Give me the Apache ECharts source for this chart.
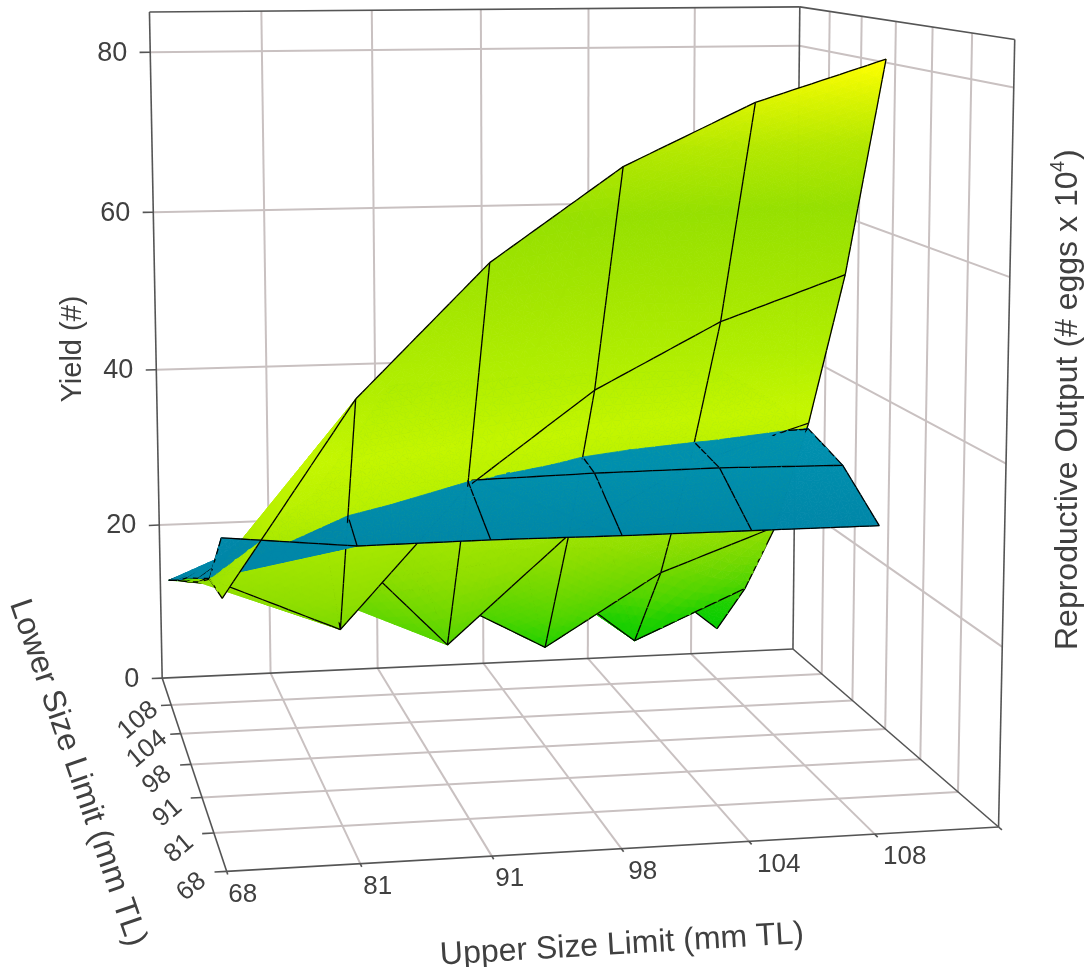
<!DOCTYPE html>
<html><head><meta charset="utf-8"><style>html,body{margin:0;padding:0;background:#fff}#c{width:1086px;height:967px}</style>
<script src="https://cdn.jsdelivr.net/npm/echarts@6/dist/echarts.min.js"></script></head>
<body><div id="c"></div><script>
// ---- data ----
const upperLimits=['68','81','91','98','104','108'];
const lowerLimits=['68','81','91','98','104','108'];
const yieldTicks=[0,20,40,60,80];
const yieldMax=85;
// rows: lower limit index, columns: upper limit index
const yieldValues=[
[28.9,49.1,62.8,72.4,78.8,83.1],
[27.9,21.8,36.9,47.0,54.1,58.9],
[24.6,30.4,16.2,28.3,35.8,40.2],
[21.6,20.0,19.5,12.0,20.4,25.4],
[18.8,17.6,18.3,19.7,8.9,14.9],
[15.8,20.1,19.2,18.0,17.7,6.6]];
const outputValues=[
[35.2,33.8,33.9,33.8,33.8,33.8],
[28.0,37.5,37.6,37.9,38.0,37.8],
[25.0,34.5,39.1,39.4,39.0,39.5],
[22.1,29.5,39.6,40.1,40.1,40.2],
[18.8,25.0,39.7,40.1,40.3,40.3],
[15.8,20.3,39.4,39.8,40.1,40.0]];
// ---- view of the 3D box (axis slots -> screen) ----
const CAM=[136.4057,-4.288505,-0.2517819,226.6517,-0.9675904,-5.209777,-9.714445,871.3591,0.007767805,0.03981842,-0.0004445517,1];
const depth=(u,l,z)=>CAM[8]*u+CAM[9]*l+CAM[10]*z+1;
const proj=(u,l,z)=>{const w=depth(u,l,z);return[(CAM[0]*u+CAM[1]*l+CAM[2]*z+CAM[3])/w,(CAM[4]*u+CAM[5]*l+CAM[6]*z+CAM[7])/w]};
const ramp=[[6,[0,204,0]],[12,[32,208,0]],[16,[80,213,0]],[20,[112,216,0]],[25,[144,222,0]],[32,[168,232,0]],[36,[184,240,0]],[42,[196,246,0]],[50,[176,238,0]],[58,[164,230,0]],[67,[150,224,0]],[74,[180,232,0]],[79,[218,244,0]],[83,[255,255,0]]];
function green(z){let i=0;while(i<ramp.length-2&&z>ramp[i+1][0])i++;const a=ramp[i],b=ramp[i+1],t=Math.max(0,Math.min(1,(z-a[0])/(b[0]-a[0])));return'rgb('+a[1].map((v,k)=>Math.round(v+(b[1][k]-v)*t)).join(',')+')'}
function blue(z){const t=Math.max(0,Math.min(1,(z-34)/6));return'rgb(0,'+Math.round(135+11*t)+','+Math.round(168+8*t)+')'}
const MAXPX=12,frags=[];
function sub(a,b,c,k,col){ // a,b,c = [u,l,zY,zO]; k = which z
  const P=v=>proj(v[0],v[1],v[k]);
  const pa=P(a),pb=P(b),pc=P(c);
  const dist=(p,q)=>Math.hypot(p[0]-q[0],p[1]-q[1]);
  const ab=dist(pa,pb),bc=dist(pb,pc),ca=dist(pc,pa),m=Math.max(ab,bc,ca);
  const mid=(p,q)=>p.map((v,i)=>(v+q[i])/2);
  if(m>MAXPX){
    if(m===ab){const d=mid(a,b);sub(a,d,c,k,col);sub(d,b,c,k,col)}
    else if(m===bc){const d=mid(b,c);sub(a,b,d,k,col);sub(a,d,c,k,col)}
    else{const d=mid(c,a);sub(a,b,d,k,col);sub(d,b,c,k,col)}
    return;
  }
  const cu=(a[0]+b[0]+c[0])/3,cl=(a[1]+b[1]+c[1])/3,cz=(a[k]+b[k]+c[k])/3;
  frags.push({t:0,pts:[pa,pb,pc],w:depth(cu,cl,cz),fill:col(cz)});
}
function splitTri(tri){ // split along the line where both surfaces meet
  const d=v=>v[2]-v[3],pos=[],neg=[],n=tri.length;
  for(let i=0;i<n;i++){const a=tri[i],b=tri[(i+1)%n],da=d(a),db=d(b);
    if(da>=0)pos.push(a);if(da<=0)neg.push(a);
    if(da*db<0){const t=da/(da-db),x=a.map((v,k)=>v+(b[k]-v)*t);pos.push(x);neg.push(x)}}
  return[pos,neg].filter(p=>p.length>=3);
}
function addTri(tri){for(const poly of splitTri(tri))for(let i=1;i<poly.length-1;i++){
  sub(poly[0],poly[i],poly[i+1],2,green);sub(poly[0],poly[i],poly[i+1],3,blue)}}
const V=(u,l)=>[u,l,yieldValues[l][u],outputValues[l][u]];
const nU=upperLimits.length,nL=lowerLimits.length;
for(let l=0;l<nL-1;l++)for(let u=0;u<nU-1;u++){
  addTri([V(u,l),V(u+1,l),V(u,l+1)]);addTri([V(u+1,l),V(u+1,l+1),V(u,l+1)]);
}
function addEdge(a,b,k){const pa=proj(a[0],a[1],a[k]),pb=proj(b[0],b[1],b[k]);
  const n=Math.max(1,Math.ceil(Math.hypot(pa[0]-pb[0],pa[1]-pb[1])/10));
  for(let i=0;i<n;i++){const s=i/n,e=(i+1)/n,f=t=>a.map((v,j)=>v+(b[j]-v)*t),A=f(s),B=f(e),M=f((s+e)/2);
    const bias=(k===3&&M[2]<M[3])?0.001:0.004;
    frags.push({t:1,pts:[proj(A[0],A[1],A[k]),proj(B[0],B[1],B[k])],w:depth(M[0],M[1],M[k])-bias})}}
for(const k of[2,3])for(let l=0;l<nL;l++)for(let u=0;u<nU;u++){
  if(u<nU-1)addEdge(V(u,l),V(u+1,l),k);if(l<nL-1)addEdge(V(u,l),V(u,l+1),k);}
frags.sort((a,b)=>b.w-a.w);
// ---- box, grid, ticks ----
const GRID='#c9c1c1',BOX='#555555',TXT='#404040',FONT='"Liberation Sans",Arial,sans-serif';
const end=nU,back=nL,lines=[];
const add=(a,b,c,w)=>lines.push({a,b,c,w});
for(let i=1;i<end;i++){add([i,0,0],[i,back,0],GRID,2);add([i,back,0],[i,back,yieldMax],GRID,2)}
for(let j=1;j<back;j++){add([0,j,0],[end,j,0],GRID,2);add([end,j,0],[end,j,yieldMax],GRID,2)}
yieldTicks.slice(1).forEach(z=>{add([0,back,z],[end,back,z],GRID,2);add([end,back,z],[end,0,z],GRID,2)});
add([0,0,0],[end,0,0],BOX,1.6);add([0,0,0],[0,back,0],BOX,1.6);add([0,back,0],[end,back,0],BOX,1.6);add([end,back,0],[end,0,0],BOX,1.6);
add([0,back,0],[0,back,yieldMax],BOX,1.6);add([end,back,0],[end,back,yieldMax],BOX,1.6);add([end,0,0],[end,0,yieldMax],BOX,1.6);
add([0,back,yieldMax],[end,back,yieldMax],BOX,1.6);add([end,back,yieldMax],[end,0,yieldMax],BOX,1.6);
yieldTicks.forEach(z=>add([-0.095,back,z],[0,back,z],BOX,1.6));
for(let j=0;j<back;j++)add([-0.09,j,0],[0,j,0],BOX,1.6);
for(let i=0;i<=end;i++)add([i,-0.08,0],[i,0,0],BOX,1.6);
// ---- tick labels ----
const labels=[];
yieldTicks.forEach(z=>{const p=proj(0,back,z);labels.push({x:p[0]-23,y:p[1]+1,text:String(z),align:'right',rot:0,size:27})});
const upDx=[15,16,16,19,27,27];
upperLimits.forEach((s,i)=>{const p=proj(i,-0.08,0);labels.push({x:p[0]+upDx[i],y:p[1]+20,text:s,align:'center',rot:0,size:26})});
lowerLimits.forEach((s,j)=>{const p=proj(-0.09,j,0);labels.push({x:p[0]-23,y:p[1]+15,text:s,align:'center',rot:40,size:26})});
labels.push({x:73,y:349,text:'Yield (#)',align:'center',rot:90,size:29});
labels.push({x:622,y:945,text:'Upper Size Limit (mm TL)',align:'center',rot:3.4,size:32});
labels.push({x:77.5,y:773,text:'Lower Size Limit (mm TL)',align:'center',rot:-71,size:32});
labels.push({x:1068,y:650,text:'Reproductive Output (# eggs x 10',align:'left',rot:90,size:32});
labels.push({x:1058,y:172,text:'4',align:'left',rot:90,size:20});
labels.push({x:1068,y:160,text:')',align:'left',rot:90,size:32});
const chart=echarts.init(document.getElementById('c'),null,{renderer:'canvas'});
chart.setOption({animation:false,backgroundColor:'#fff',series:[
{type:'custom',coordinateSystem:'none',z:1,silent:true,animation:false,data:lines.map((_,i)=>i),
 renderItem:(p,api)=>{const L=lines[api.value(0)],A=proj(...L.a),B=proj(...L.b);
  return{type:'line',silent:true,shape:{x1:A[0],y1:A[1],x2:B[0],y2:B[1]},style:{stroke:L.c,lineWidth:L.w}}}},
{type:'custom',coordinateSystem:'none',z:2,silent:true,animation:false,progressive:0,data:frags.map((_,i)=>i),
 renderItem:(p,api)=>{const f=frags[api.value(0)];
  return f.t?{type:'line',silent:true,shape:{x1:f.pts[0][0],y1:f.pts[0][1],x2:f.pts[1][0],y2:f.pts[1][1]},style:{stroke:'#000',lineWidth:1.3}}
   :{type:'polygon',silent:true,shape:{points:f.pts},style:{fill:f.fill,stroke:f.fill,lineWidth:0.8}}}},
{type:'custom',coordinateSystem:'none',z:3,silent:true,animation:false,data:labels.map((_,i)=>i),
 renderItem:(p,api)=>{const t=labels[api.value(0)];
  return{type:'text',silent:true,x:t.x,y:t.y,rotation:t.rot*Math.PI/180,style:{text:t.text,fill:TXT,font:t.size+'px '+FONT,textAlign:t.align,textVerticalAlign:'middle'}}}}
]});
</script></body></html>
